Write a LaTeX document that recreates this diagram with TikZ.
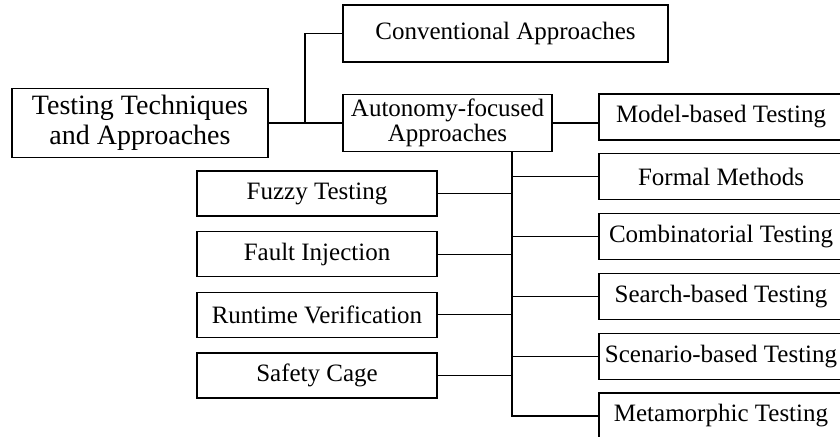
\documentclass[tikz,border=0pt]{standalone}
\usepackage{fontspec}
\setmainfont{Liberation Serif}
\usetikzlibrary{positioning,calc}

\begin{document}
\begin{tikzpicture}[x=0.5pt, y=-0.5pt, line width=0.6pt,
    box/.style={draw, rectangle, inner sep=0pt, align=center, font=\fontsize{12.5}{12.5}\selectfont},
    lbox/.style={box, minimum width=120pt, minimum height=22.5pt},
    rbox/.style={box, minimum width=122pt, minimum height=23pt}]
    \useasboundingbox (0,0) rectangle (840,436);
    \clip (0,0) rectangle (840,436);

    % Top level
    \node[box, minimum width=128pt, minimum height=34.5pt, font=\fontsize{14}{15}\selectfont] (root) at (140,123) {Testing Techniques\\and Approaches};
    \node[box, minimum width=162.5pt, minimum height=28.5pt] (conv) at (505.5,33.5) {Conventional Approaches};
    \node[box, minimum width=104.5pt, minimum height=28.5pt] (auto) at (447.5,123) {Autonomy-focused\\Approaches};

    % Right column
    \foreach \name/\txt [count=\i from 0] in {model/Model-based Testing, formal/Formal Methods, comb/Combinatorial Testing, search/Search-based Testing, scen/Scenario-based Testing, meta/Metamorphic Testing} {
        \node[rbox] (\name) at (721, 117+59.8*\i) {\txt};
    }

    % Left column
    \foreach \name/\txt [count=\i from 0] in {fuzzy/Fuzzy Testing, fault/Fault Injection, runtime/Runtime Verification, cage/Safety Cage} {
        \node[lbox] (\name) at (317, 193.5+60.67*\i) {\txt};
    }

    % Connectors
    \coordinate (split) at (305,0);
    \coordinate (trunk) at (512,0);
    \draw (root.east) -- (auto.west);
    \draw (root.east -| split) |- (conv.west);
    \draw (auto.east) -- (auto.east -| model.west);
    \draw[line width=0.75pt] (auto.south -| trunk) -- (meta.west -| trunk) -- (meta.west);
    \foreach \name in {formal, comb, search, scen} {
        \draw (\name.west -| trunk) -- (\name.west);
    }
    \foreach \name in {fuzzy, fault, runtime, cage} {
        \draw (\name.east) -- (\name.east -| trunk);
    }
\end{tikzpicture}
\end{document}
